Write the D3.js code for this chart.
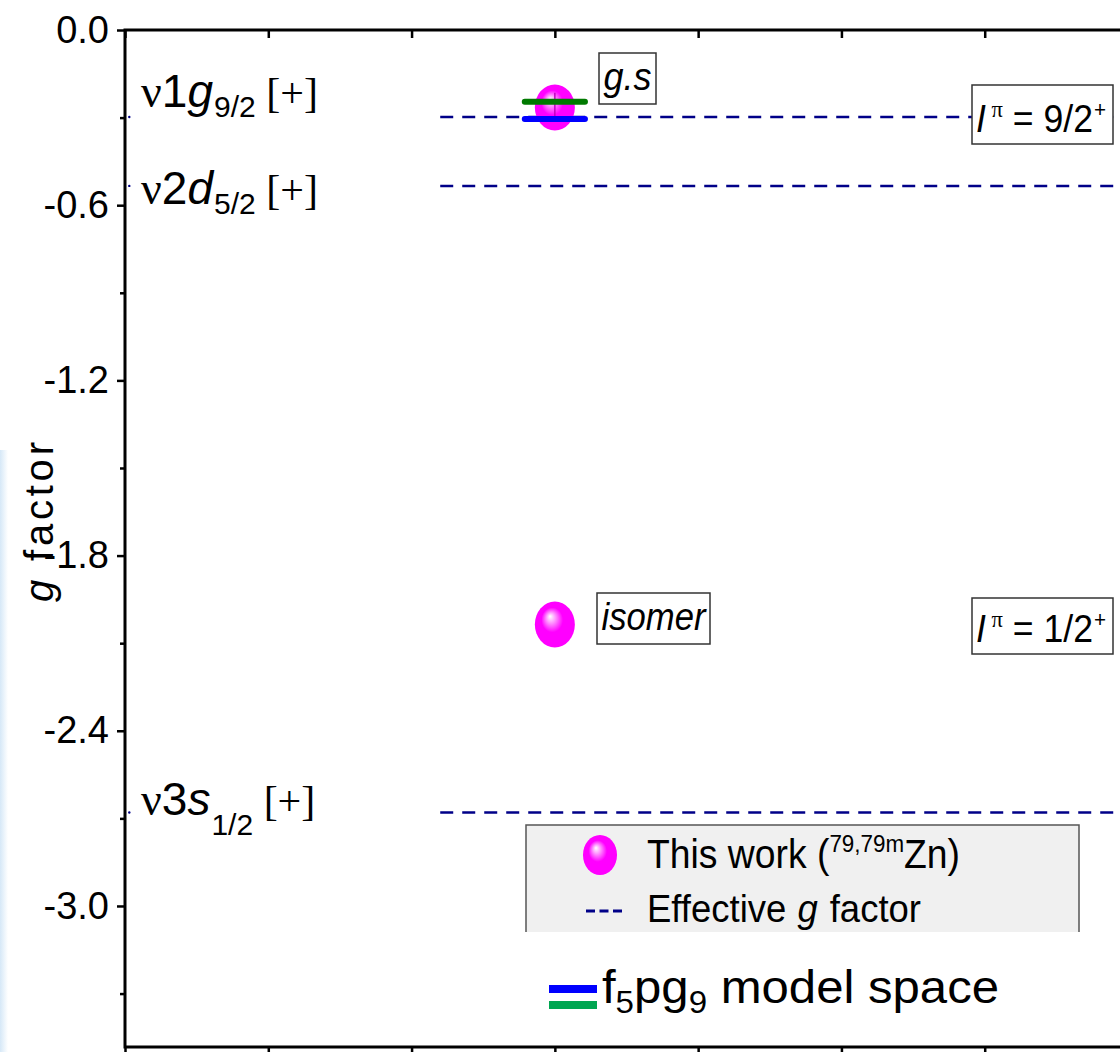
<!DOCTYPE html>
<html><head><meta charset="utf-8">
<script src="https://cdn.jsdelivr.net/npm/d3@7"></script>
<style>body{margin:0;background:#fff}svg{display:block}</style>
</head><body>
<svg id="c" width="1120" height="1052"></svg>
<script>
// ---- data ----
const yTicks = [0, -0.6, -1.2, -1.8, -2.4, -3.0];
const yMinor = [-0.3, -0.9, -1.5, -2.1, -2.7, -3.3];
const xTicks = [0, 1, 2, 3, 4, 5, 6, 7];
const orbitals = ["1g", "2d", "3s"];
const orbitalSub = ["9/2", "5/2", "1/2"];
const effectiveG = [-0.298, -0.534, -2.68];
const states = ["g.s", "isomer"];
const spins = ["9/2", "1/2"];
const measuredG = [-0.265, -2.036];
const measuredErr = [0.05, 0.0];
const shellBlue = [-0.305];
const shellGreen = [-0.246];

const svg = d3.select("#c");
const W = 1120, H = 1052;
const x = d3.scaleLinear().domain([0, 7]).range([125, 1128]);
const y = d3.scaleLinear().domain([-3.483, 0]).range([1047, 30]);
const navy = "#000088";
const sans = "'Liberation Sans', Arial, sans-serif";
const serif = "'Liberation Serif', 'Times New Roman', serif";

// faint left strip
const defs = svg.append("defs");
const strip = defs.append("linearGradient").attr("id","strip").attr("x1",0).attr("x2",1);
strip.append("stop").attr("offset",0).attr("stop-color","#d6e8f7");
strip.append("stop").attr("offset",1).attr("stop-color","#ffffff");
svg.append("rect").attr("x",0).attr("y",450).attr("width",8).attr("height",602).attr("fill","url(#strip)");

const ball = defs.append("radialGradient").attr("id","ball").attr("cx","0.5").attr("cy","0.5").attr("r","0.6").attr("fx","0.38").attr("fy","0.32");
ball.append("stop").attr("offset",0).attr("stop-color","#ffffff");
ball.append("stop").attr("offset",0.18).attr("stop-color","#ff9cff");
ball.append("stop").attr("offset",0.45).attr("stop-color","#ff00ff");
ball.append("stop").attr("offset",1).attr("stop-color","#ff00ff");

// effective g lines
svg.append("g").selectAll("line").data(effectiveG).join("line")
  .attr("x1", x(2.2)).attr("x2", W).attr("y1", d => y(d)).attr("y2", d => y(d))
  .attr("stroke", navy).attr("stroke-width", 2.5).attr("stroke-dasharray", "13,9");
svg.append("g").selectAll("circle").data(effectiveG).join("circle")
  .attr("cx", x(0.03)).attr("cy", d => y(d)).attr("r", 1.2).attr("fill", navy);

// orbital labels
const olab = svg.append("g");
const subShift = [10, 10, 20];
const labOff = [10, -18, -2];
orbitals.forEach((o, i) => {
  const t = olab.append("text").attr("x", 141).attr("y", y(effectiveG[i]) - labOff[i])
    .attr("font-size", 46).attr("fill", "#000");
  t.append("tspan").attr("font-family", serif).text("ν");
  t.append("tspan").attr("font-family", sans).text(o[0]);
  t.append("tspan").attr("font-family", sans).attr("font-style", "italic").text(o[1]);
  t.append("tspan").attr("font-family", sans).attr("font-size", 30).attr("dy", subShift[i]).attr("dx", 1).text(orbitalSub[i]);
  t.append("tspan").attr("font-family", serif).attr("font-size", 42).attr("dy", -subShift[i]).text(" [+]");
});

// points
svg.append("g").selectAll("ellipse").data(measuredG).join("ellipse")
  .attr("cx", x(3)).attr("cy", d => y(d)).attr("rx", 20).attr("ry", 23).attr("fill", "url(#ball)");
svg.append("g").selectAll("line").data(measuredG).join("line")
  .attr("x1", x(3)).attr("x2", x(3)).attr("y1", (d,i) => y(d + measuredErr[i])).attr("y2", (d,i) => y(d - measuredErr[i]))
  .attr("stroke", "#c000c0").attr("stroke-width", 1.5);
// shell model bars
svg.append("line").attr("x1", x(2.79)).attr("x2", x(3.21)).attr("y1", y(shellGreen[0])).attr("y2", y(shellGreen[0]))
  .attr("stroke", "#007a00").attr("stroke-width", 6).attr("stroke-linecap","round");
svg.append("line").attr("x1", x(2.79)).attr("x2", x(3.21)).attr("y1", y(shellBlue[0])).attr("y2", y(shellBlue[0]))
  .attr("stroke", "#0000ff").attr("stroke-width", 6).attr("stroke-linecap","round");

// state label boxes: x, y, w, h, font, textLength
const stBox = [[599, 53, 57, 51, 38, 48], [597, 593, 113, 51, 38, 104]];
states.forEach((s, i) => {
  const b = stBox[i];
  svg.append("rect").attr("x", b[0]).attr("y", b[1]).attr("width", b[2]).attr("height", b[3])
    .attr("fill", "#fff").attr("stroke", "#333").attr("stroke-width", 1.5);
  svg.append("text").attr("x", b[0] + (b[2] - b[5]) / 2).attr("y", b[1] + b[3]/2 + b[4]*0.3)
    .attr("font-family", sans).attr("font-style", "italic")
    .attr("font-size", b[4]).attr("textLength", b[5]).attr("lengthAdjust", "spacingAndGlyphs").text(s);
});

// spin boxes
const spinBox = [[85, 59], [598, 56]];
spins.forEach((s, i) => {
  const [by, bh] = spinBox[i];
  svg.append("rect").attr("x", 972).attr("y", by).attr("width", 141).attr("height", bh)
    .attr("fill", "#fff").attr("stroke", "#333").attr("stroke-width", 1.5);
  const t = svg.append("text").attr("x", 976).attr("y", by + bh - 12).attr("font-family", sans).attr("font-size", 38)
    .attr("textLength", 130).attr("lengthAdjust", "spacingAndGlyphs");
  t.append("tspan").attr("font-style", "italic").text("I");
  t.append("tspan").attr("font-family", serif).attr("font-size", 24).attr("dy", -15).attr("dx", 6).text("π");
  t.append("tspan").attr("dy", 15).text(" = " + s);
  t.append("tspan").attr("font-size", 22).attr("dy", -15).attr("dx", 1).text("+");
});

// legend box
const leg = svg.append("g");
leg.append("rect").attr("x", 526).attr("y", 825).attr("width", 553).attr("height", 107).attr("fill", "#f0f0f0");
leg.append("path").attr("d", "M526,932V825H1079V932").attr("fill", "none").attr("stroke", "#555").attr("stroke-width", 1.5);
leg.append("ellipse").attr("cx", 600).attr("cy", 855).attr("rx", 17).attr("ry", 20).attr("fill", "url(#ball)");
const lt = leg.append("text").attr("x", 647).attr("y", 868).attr("font-family", sans).attr("font-size", 40)
  .attr("textLength", 313).attr("lengthAdjust", "spacingAndGlyphs");
lt.append("tspan").text("This work (");
lt.append("tspan").attr("font-size", 24).attr("dy", -16).text("79,79m");
lt.append("tspan").attr("dy", 16).text("Zn)");
leg.append("line").attr("x1", 586).attr("x2", 623).attr("y1", 911).attr("y2", 911)
  .attr("stroke", navy).attr("stroke-width", 3).attr("stroke-dasharray", "9,4.5");
const lt2 = leg.append("text").attr("x", 647).attr("y", 922).attr("font-family", sans).attr("font-size", 38)
  .attr("textLength", 274).attr("lengthAdjust", "spacingAndGlyphs");
lt2.append("tspan").text("Effective ");
lt2.append("tspan").attr("font-style", "italic").attr("dx", 1).text("g");
lt2.append("tspan").attr("dx", 2).text(" factor");

// model space
svg.append("line").attr("x1", 549).attr("x2", 597).attr("y1", 989).attr("y2", 989).attr("stroke", "#0000ff").attr("stroke-width", 8);
svg.append("line").attr("x1", 549).attr("x2", 597).attr("y1", 1005).attr("y2", 1005).attr("stroke", "#00a651").attr("stroke-width", 8);
const mt = svg.append("text").attr("x", 602).attr("y", 1003).attr("font-family", sans).attr("font-size", 46)
  .attr("textLength", 397).attr("lengthAdjust", "spacingAndGlyphs");
mt.append("tspan").text("f");
mt.append("tspan").attr("font-size", 31).attr("dy", 10).text("5");
mt.append("tspan").attr("dy", -10).text("pg");
mt.append("tspan").attr("font-size", 31).attr("dy", 10).text("9");
mt.append("tspan").attr("dy", -10).text("  model space");

// axes
const yAx = svg.append("g").attr("transform", "translate(125,0)")
  .call(d3.axisLeft(y).tickValues(yTicks).tickFormat(d => d.toFixed(1)).tickSize(8).tickPadding(8));
yAx.select(".domain").remove();
yAx.selectAll("text").attr("font-family", sans).attr("font-size", 38).attr("fill", "#000");
yAx.selectAll("line").attr("stroke-width", 2.5);
const yMin = svg.append("g").attr("transform", "translate(125,0)")
  .call(d3.axisLeft(y).tickValues(yMinor).tickFormat("").tickSize(5));
yMin.select(".domain").remove();
yMin.selectAll("line").attr("stroke-width", 2.5);

const xTop = svg.append("g").attr("transform", "translate(0,30)")
  .call(d3.axisBottom(x).tickValues(xTicks).tickFormat("").tickSize(8));
xTop.select(".domain").remove();
xTop.selectAll("line").attr("stroke-width", 2.5);
const xBot = svg.append("g").attr("transform", "translate(0,1047)")
  .call(d3.axisBottom(x).tickValues(xTicks).tickFormat("").tickSize(8));
xBot.select(".domain").remove();
xBot.selectAll("line").attr("stroke-width", 2.5);

svg.append("path").attr("d", `M${W},30H125V1047H${W}`).attr("fill", "none").attr("stroke", "#000").attr("stroke-width", 3);

svg.append("text").attr("transform", "translate(53,522) rotate(-90)").attr("text-anchor", "middle")
  .attr("font-family", sans).attr("font-size", 40).attr("textLength", 160).attr("lengthAdjust", "spacing")
  .html('<tspan font-style="italic">g</tspan> factor');
</script>
</body></html>
